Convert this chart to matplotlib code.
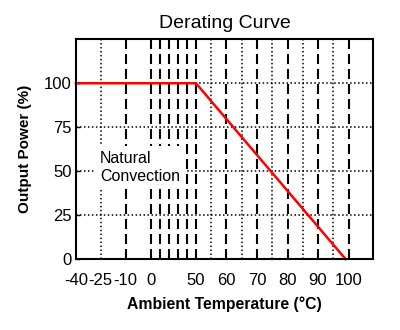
import numpy as np
import matplotlib
matplotlib.use('Agg')
import matplotlib.pyplot as plt
import matplotlib.ticker as ticker

plt.rcParams['font.family'] = ['Liberation Sans', 'DejaVu Sans']

# derating curve
temp = [-40, 50, 99]
power = [100, 100, 0]

x_ticks = [-40, -25, -10, 0, 50, 60, 70, 80, 90, 100]
y_ticks = [0, 25, 50, 75, 100]
dashed_x = [-10, 0, 10, 20, 30, 40, 50, 60, 70, 80, 90, 100]
dotted_x = [-25, 55, 65, 75, 85, 95]
dotted_y = [25, 50, 75, 100]

# the temperature axis is piecewise linear (compressed below 50 °C)
bp_t = np.array([-100, -40, -25, -10, 0, 50, 100, 200])
bp_p = np.array([-98.8, 0, 24.7, 49.7, 74.7, 120, 272.7, 578.1])
def fwd(x):
    return np.interp(x, bp_t, bp_p)
def inv(p):
    return np.interp(p, bp_p, bp_t)

fig = plt.figure(figsize=(4, 3.3), dpi=100)
ax = fig.add_axes([0.19, 0.215, 0.7425, 0.666])
ax.set_xscale('function', functions=(fwd, inv))
ax.set_xlim(-40, 108)
ax.set_ylim(0, 125)

dash = (0, (4.8, 2.4))
dot = (0, (1, 1.6))
for x in dashed_x:
    ax.axvline(x, color='black', lw=1.5, linestyle=dash, zorder=1)
for x in dotted_x:
    ax.axvline(x, color='black', lw=1.1, linestyle=dot, zorder=1)
for y in dotted_y:
    ax.axhline(y, color='black', lw=1.1, linestyle=dot, zorder=1)

ax.plot(temp, power, color='#ff0000', lw=1.8, zorder=4, clip_on=False)

ax.text(-25.5, 52, 'Natural\nConvection', fontsize=11.5, ha='left', va='center',
        bbox=dict(facecolor='white', edgecolor='none', pad=4), zorder=3)

ax.xaxis.set_major_locator(ticker.FixedLocator(x_ticks))
ax.xaxis.set_major_formatter(ticker.FixedFormatter([str(t) for t in x_ticks]))
ax.xaxis.set_minor_locator(ticker.NullLocator())
ax.yaxis.set_major_locator(ticker.FixedLocator(y_ticks))
ax.tick_params(axis='x', direction='in', length=0, labelsize=12, pad=10)
ax.tick_params(axis='y', direction='in', length=3, width=1, labelsize=12, pad=3)

for s in ax.spines.values():
    s.set_linewidth(1.5)
    s.set_zorder(5)

ax.set_title('Derating Curve', fontsize=14, pad=8)
ax.set_xlabel('Ambient Temperature (°C)', fontsize=11.3, fontweight='bold', labelpad=6)
ax.set_ylabel('Output Power (%)', fontsize=11, fontweight='bold', labelpad=9)

fig.savefig('out.png', dpi=100)
